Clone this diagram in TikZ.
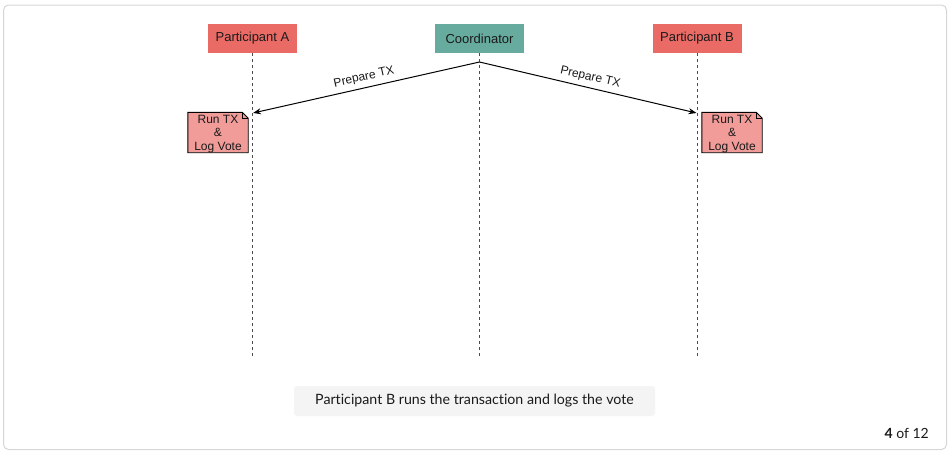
\documentclass[tikz,border=0pt]{standalone}
\usepackage{fontspec}
\setmainfont{Liberation Sans}
\newfontfamily\capfont[RawFeature={-liga;-dlig}]{Lato}
\usetikzlibrary{arrows.meta}
\definecolor{partred}{HTML}{EA6B66}
\definecolor{coordgreen}{HTML}{67AB9F}
\definecolor{notered}{HTML}{F19C99}
\definecolor{framegray}{HTML}{D6D6D6}
\definecolor{capgray}{HTML}{F4F4F4}
\definecolor{inkdark}{HTML}{1A1A1A}
\tikzset{
  actor/.style={minimum width=89pt, minimum height=29pt, inner sep=0pt, font=\fontsize{13}{15}\selectfont, text=inkdark},
  lifeline/.style={dashed, dash pattern=on 3pt off 3pt, line width=1pt, draw=black!70},
  msg/.style={-{Stealth[length=8pt,width=6pt]}, line width=1pt},
  msglabel/.style={font=\fontsize{12}{14}\selectfont, sloped, above=1pt, text=inkdark},
  notebox/.style={minimum width=60pt, minimum height=40pt, inner sep=0pt, align=center, font=\fontsize{12}{13.6}\selectfont},
}
\begin{document}
\begin{tikzpicture}[x=1pt, y=-1pt]
\useasboundingbox (0,0) rectangle (951,453);
% outer frame
\draw[framegray, line width=1pt, rounded corners=5pt, fill=white] (3.5,5) rectangle (946.5,449.5);

% participants
\node[actor, fill=partred] (pa) at (252.5,38.5) {Participant A};
\node[actor, fill=coordgreen] (co) at (479.5,38.5) {Coordinator};
\node[actor, fill=partred] (pb) at (697,38.5) {Participant B};

% lifeline ends
\coordinate (pa-end) at (252.5,359);
\coordinate (co-end) at (479.5,359);
\coordinate (pb-end) at (697,359);
\draw[lifeline] (pa.south) -- (pa-end);
\draw[lifeline] (co.south) -- (co-end);
\draw[lifeline] (pb.south) -- (pb-end);

% message points
\coordinate (co-send) at (479.5,62);
\coordinate (pa-recv) at (253,113);
\coordinate (pb-recv) at (696.5,113);
\draw[msg] (co-send) -- node[msglabel] {Prepare TX} (pa-recv);
\draw[msg] (co-send) -- node[msglabel] {Prepare TX} (pb-recv);

% notes with a folded corner
\foreach \nm/\cx in {notea/218, noteb/732}{
  \node[notebox] (\nm) at (\cx,132.5) {};
  \fill[notered] (\nm.north west) -- ([xshift=-6pt]\nm.north east) -- ([yshift=-6pt]\nm.north east) -- (\nm.south east) -- (\nm.south west) -- cycle;
  \draw[line width=0.9pt] (\nm.north west) -- ([xshift=-6pt]\nm.north east) -- ([yshift=-6pt]\nm.north east) -- (\nm.south east) -- (\nm.south west) -- cycle;
  \draw[line width=0.9pt] ([xshift=-6pt]\nm.north east) -- ([xshift=-6pt,yshift=-6pt]\nm.north east) -- ([yshift=-6pt]\nm.north east);
  \node[notebox, text=inkdark] at ([yshift=-1.5pt]\nm.center) {Run TX\\\&\\Log Vote};
}

% caption
\node[fill=capgray, rounded corners=3pt, minimum width=361pt, minimum height=30pt, inner sep=0pt, font=\capfont\fontsize{14.2}{16}\selectfont, text=inkdark] (caption) at (474.5,401) {Participant B runs the transaction and logs the vote};

% page counter
\node[anchor=east, inner sep=0pt, font=\capfont\fontsize{14}{16}\selectfont, text=inkdark] (counter) at (929,433.5) {\textbf{4} of 12};
\end{tikzpicture}
\end{document}
